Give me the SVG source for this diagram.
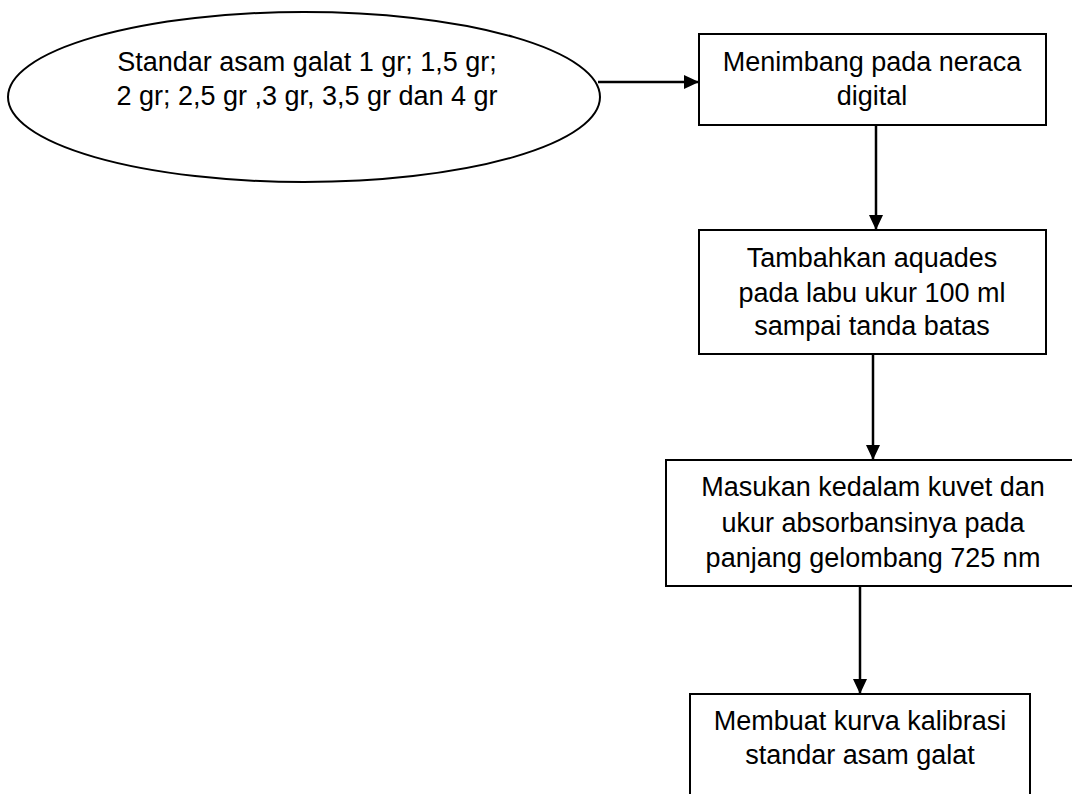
<svg xmlns="http://www.w3.org/2000/svg" width="1072" height="794" viewBox="0 0 1072 794">
<defs>
<style>
.shape{fill:#fff;stroke:#000;stroke-width:2}
.lbl{font-family:"Liberation Sans",Arial,sans-serif;font-size:27px;fill:#000;text-anchor:middle}
.conn{stroke:#000;stroke-width:2.5;fill:none}
</style>
<marker id="ah" markerWidth="15" markerHeight="14" refX="15" refY="7" orient="auto" markerUnits="userSpaceOnUse">
<path d="M0,0 L15,7 L0,14 Z" fill="#000"/>
</marker>
</defs>
<rect width="1072" height="794" fill="#fff"/>
<g id="n1">
<ellipse class="shape" cx="304" cy="97" rx="296" ry="85"/>
<text class="lbl" x="307" y="71">Standar asam galat 1 gr; 1,5 gr;</text>
<text class="lbl" x="307" y="105">2 gr; 2,5 gr ,3 gr, 3,5 gr dan 4 gr</text>
</g>
<g id="n2">
<rect class="shape" x="699" y="34" width="347" height="91"/>
<text class="lbl" x="872" y="71">Menimbang pada neraca</text>
<text class="lbl" x="872" y="105">digital</text>
</g>
<g id="n3">
<rect class="shape" x="699" y="230" width="347" height="124"/>
<text class="lbl" x="872" y="267">Tambahkan aquades</text>
<text class="lbl" x="872" y="302">pada labu ukur 100 ml</text>
<text class="lbl" x="872" y="335">sampai tanda batas</text>
</g>
<g id="n4">
<rect class="shape" x="666" y="460" width="420" height="126"/>
<text class="lbl" x="873" y="496">Masukan kedalam kuvet dan</text>
<text class="lbl" x="873" y="532">ukur absorbansinya pada</text>
<text class="lbl" x="873" y="567">panjang gelombang 725 nm</text>
</g>
<g id="n5">
<rect class="shape" x="690" y="694" width="340" height="120"/>
<text class="lbl" x="860" y="730">Membuat kurva kalibrasi</text>
<text class="lbl" x="860" y="764">standar asam galat</text>
</g>
<g id="connectors">
<line class="conn" x1="598" y1="82" x2="699" y2="82" marker-end="url(#ah)"/>
<line class="conn" x1="876" y1="125" x2="876" y2="230" marker-end="url(#ah)"/>
<line class="conn" x1="873" y1="354" x2="873" y2="460" marker-end="url(#ah)"/>
<line class="conn" x1="860" y1="586" x2="860" y2="694" marker-end="url(#ah)"/>
</g>
</svg>
